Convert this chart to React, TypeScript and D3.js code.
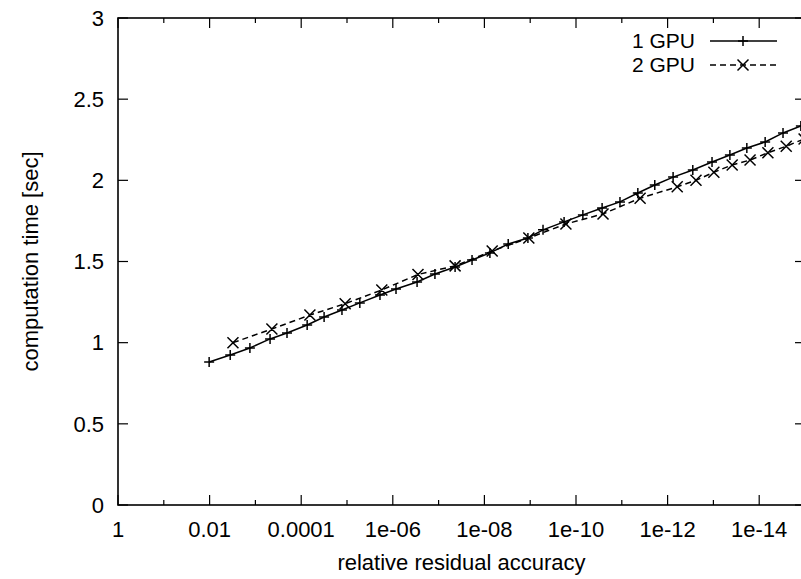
import * as d3 from "d3";
import React, { useRef, useEffect } from "react";

const mainWidth = 801;
const mainHeight = 579;
const margin = { top: 18, right: -4, bottom: 74, left: 118 };
const width = mainWidth - margin.left - margin.right;
const height = mainHeight - margin.top - margin.bottom;

// accuracy exponents (log10 of 1/accuracy) and computation times
const gpu1Exp = [
  1.99, 2.45, 2.88, 3.32, 3.69, 4.13, 4.5, 4.89, 5.28, 5.72, 6.07, 6.53, 6.92, 7.36, 7.73, 8.12,
  8.52, 8.95, 9.28, 9.74, 10.15, 10.57, 10.96, 11.35, 11.72, 12.12, 12.55, 12.97, 13.36, 13.73,
  14.13, 14.52, 14.91,
];
const gpu1Time = [
  0.881, 0.924, 0.967, 1.023, 1.06, 1.109, 1.158, 1.201, 1.245, 1.294, 1.331, 1.374, 1.423, 1.466,
  1.509, 1.553, 1.608, 1.645, 1.695, 1.744, 1.787, 1.83, 1.867, 1.922, 1.971, 2.02, 2.064, 2.113,
  2.156, 2.199, 2.236, 2.292, 2.335,
];
const gpu2Exp = [
  2.51, 3.36, 4.19, 4.96, 5.76, 6.55, 7.36, 8.17, 8.97, 9.78, 10.59, 11.4, 12.21, 12.62, 13.01,
  13.41, 13.8, 14.19, 14.59, 14.98,
];
const gpu2Time = [
  1.0, 1.084, 1.17, 1.24, 1.325, 1.42, 1.473, 1.565, 1.645, 1.731, 1.793, 1.89, 1.96, 2.0, 2.05,
  2.095, 2.125, 2.17, 2.21, 2.255,
];

const xTickValues = [1, 1e-2, 1e-4, 1e-6, 1e-8, 1e-10, 1e-12, 1e-14];
const xTickLabels = ["1", "0.01", "0.0001", "1e-06", "1e-08", "1e-10", "1e-12", "1e-14"];
const xMinorTicks = [1e-1, 1e-3, 1e-5, 1e-7, 1e-9, 1e-11, 1e-13, 1e-15];
const yTickValues = [0, 0.5, 1, 1.5, 2, 2.5, 3];
const yTickLabels = ["0", "0.5", "1", "1.5", "2", "2.5", "3"];

const font = "'Liberation Sans', Arial, Helvetica, sans-serif";
const fontSize = 22;

function App() {
  const ref = useRef<SVGSVGElement>(null);

  useEffect(() => {
    const svg = d3.select(ref.current);
    svg.selectAll("*").remove();

    const xScale = d3.scaleLog().domain([1, 1e-15]).range([0, width]);
    const yScale = d3.scaleLinear().domain([0, 3]).range([height, 0]);

    const g = svg.append("g").attr("transform", `translate(${margin.left},${margin.top})`);

    svg
      .append("defs")
      .append("clipPath")
      .attr("id", "plot-clip")
      .append("rect")
      .attr("width", width)
      .attr("height", height);

    // ticks (inward, mirrored)
    const tickG = g.append("g").attr("stroke", "#000").attr("stroke-width", 1.2);
    xTickValues.forEach((v) => {
      const x = xScale(v);
      tickG.append("line").attr("x1", x).attr("x2", x).attr("y1", height).attr("y2", height - 10);
      tickG.append("line").attr("x1", x).attr("x2", x).attr("y1", 0).attr("y2", 10);
    });
    xMinorTicks.forEach((v) => {
      const x = xScale(v);
      tickG.append("line").attr("x1", x).attr("x2", x).attr("y1", height).attr("y2", height - 5);
      tickG.append("line").attr("x1", x).attr("x2", x).attr("y1", 0).attr("y2", 5);
    });
    yTickValues.forEach((v) => {
      const y = yScale(v);
      tickG.append("line").attr("x1", 0).attr("x2", 10).attr("y1", y).attr("y2", y);
      tickG.append("line").attr("x1", width).attr("x2", width - 10).attr("y1", y).attr("y2", y);
    });

    // border
    g.append("rect")
      .attr("width", width)
      .attr("height", height)
      .attr("fill", "none")
      .attr("stroke", "#000")
      .attr("stroke-width", 1.6);

    // tick labels
    g.append("g")
      .selectAll("text")
      .data(xTickValues)
      .join("text")
      .attr("x", (d) => xScale(d))
      .attr("y", height + 32)
      .attr("text-anchor", "middle")
      .attr("font-family", font)
      .attr("font-size", fontSize)
      .text((_, i) => xTickLabels[i]);

    g.append("g")
      .selectAll("text")
      .data(yTickValues)
      .join("text")
      .attr("x", -14)
      .attr("y", (d) => yScale(d))
      .attr("dy", "0.35em")
      .attr("text-anchor", "end")
      .attr("font-family", font)
      .attr("font-size", fontSize)
      .text((_, i) => yTickLabels[i]);

    // axis titles
    svg
      .append("text")
      .attr("x", margin.left + width / 2)
      .attr("y", 570)
      .attr("text-anchor", "middle")
      .attr("font-family", font)
      .attr("font-size", fontSize)
      .text("relative residual accuracy");

    svg
      .append("text")
      .attr("transform", `translate(38,${margin.top + height / 2}) rotate(-90)`)
      .attr("text-anchor", "middle")
      .attr("font-family", font)
      .attr("font-size", fontSize)
      .text("computation time [sec]");

    const plot = g.append("g").attr("clip-path", "url(#plot-clip)");

    const line = d3
      .line<[number, number]>()
      .x((d) => xScale(Math.pow(10, -d[0])))
      .y((d) => yScale(d[1]));

    const s1: [number, number][] = gpu1Exp.map((e, i) => [e, gpu1Time[i]]);
    const s2: [number, number][] = gpu2Exp.map((e, i) => [e, gpu2Time[i]]);

    const plusPath = (x: number, y: number, r: number) =>
      `M${x - r},${y}H${x + r}M${x},${y - r}V${y + r}`;
    const crossPath = (x: number, y: number, r: number) =>
      `M${x - r},${y - r}L${x + r},${y + r}M${x - r},${y + r}L${x + r},${y - r}`;

    plot
      .append("path")
      .datum(s2)
      .attr("d", line)
      .attr("fill", "none")
      .attr("stroke", "#000")
      .attr("stroke-width", 1.5)
      .attr("stroke-dasharray", "6,4");
    plot
      .append("path")
      .attr("d", s2.map((d) => crossPath(line.x()(d, 0, s2) as number, yScale(d[1]), 5.5)).join(""))
      .attr("stroke", "#000")
      .attr("stroke-width", 1.5);

    plot
      .append("path")
      .datum(s1)
      .attr("d", line)
      .attr("fill", "none")
      .attr("stroke", "#000")
      .attr("stroke-width", 1.5);
    plot
      .append("path")
      .attr("d", s1.map((d) => plusPath(line.x()(d, 0, s1) as number, yScale(d[1]), 5)).join(""))
      .attr("stroke", "#000")
      .attr("stroke-width", 1.5);

    // legend
    const legend = svg.append("g");
    const entries = [
      { label: "1 GPU", y: 41, dash: null as string | null, marker: plusPath },
      { label: "2 GPU", y: 65, dash: "6,4", marker: crossPath },
    ];
    entries.forEach((e) => {
      legend
        .append("text")
        .attr("x", 695)
        .attr("y", e.y)
        .attr("dy", "0.35em")
        .attr("text-anchor", "end")
        .attr("font-family", font)
        .attr("font-size", 21)
        .text(e.label);
      legend
        .append("line")
        .attr("x1", 710)
        .attr("x2", 777)
        .attr("y1", e.y)
        .attr("y2", e.y)
        .attr("stroke", "#000")
        .attr("stroke-width", 1.5)
        .attr("stroke-dasharray", e.dash);
      legend
        .append("path")
        .attr("d", e.marker(743, e.y, e.dash ? 5.5 : 5))
        .attr("stroke", "#000")
        .attr("stroke-width", 1.5);
    });
  }, []);

  return (
    <svg
      ref={ref}
      width={mainWidth}
      height={mainHeight}
      style={{ position: "absolute", left: 0, top: 0, background: "#fff" }}
    ></svg>
  );
}

export default App;
